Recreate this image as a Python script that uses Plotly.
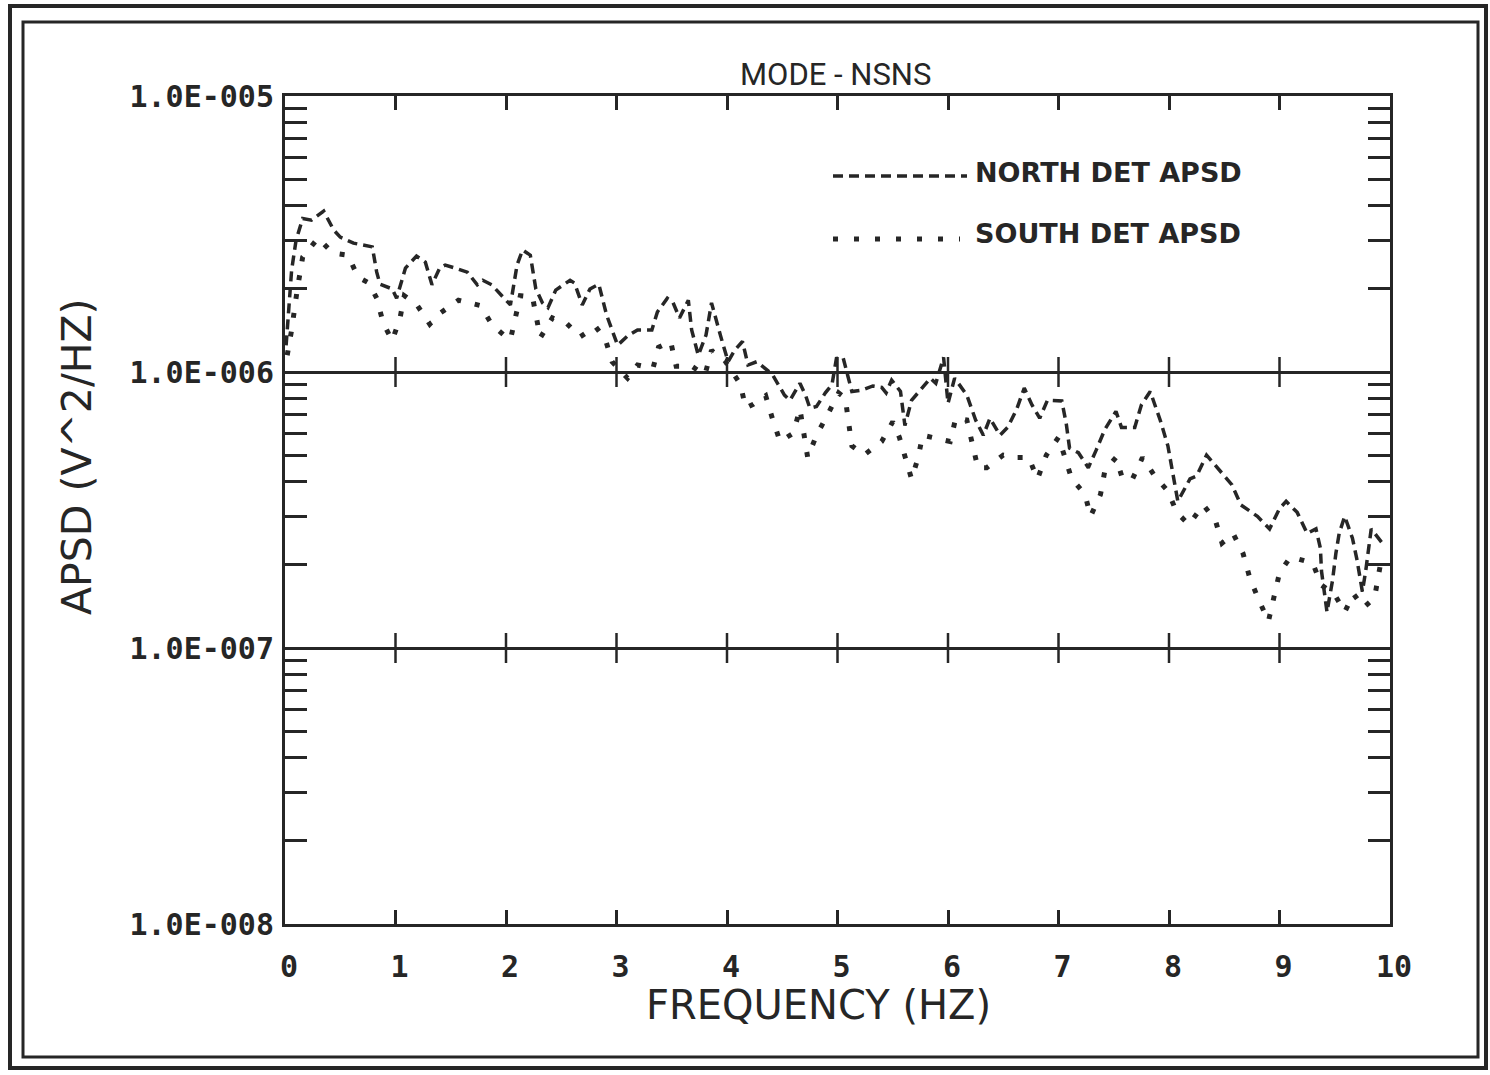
import plotly.graph_objects as go

# ---------------- data ----------------
north_freq = [0.01, 0.06, 0.10, 0.16, 0.24, 0.35, 0.44, 0.50, 0.62, 0.70, 0.79, 0.83, 0.86, 0.97,
              1.01, 1.09, 1.19, 1.27, 1.33, 1.40, 1.45, 1.54, 1.65, 1.74, 1.79, 1.87, 1.96,
              2.04, 2.10, 2.15, 2.22, 2.27, 2.33, 2.38, 2.45, 2.58, 2.62, 2.69, 2.76, 2.84, 2.91,
              3.01, 3.10, 3.19, 3.32, 3.37, 3.46, 3.51, 3.57, 3.65, 3.68, 3.74, 3.81, 3.86, 3.94,
              4.01, 4.07, 4.14, 4.19, 4.27, 4.41, 4.52, 4.57, 4.66, 4.71, 4.75, 4.81, 4.89, 4.95, 4.99,
              5.05, 5.10, 5.13, 5.22, 5.32, 5.40, 5.44, 5.49, 5.57, 5.61, 5.67, 5.75, 5.84, 5.89, 5.96,
              6.00, 6.06, 6.17, 6.25, 6.32, 6.38, 6.47, 6.54, 6.62, 6.69, 6.76, 6.83, 6.90,
              7.03, 7.07, 7.10, 7.18, 7.27, 7.34, 7.42, 7.52, 7.57, 7.69, 7.75, 7.83, 7.92, 7.99,
              8.03, 8.08, 8.19, 8.25, 8.34, 8.44, 8.57, 8.65, 8.80, 8.91,
              9.00, 9.06, 9.16, 9.25, 9.33, 9.37, 9.38, 9.43, 9.48, 9.51, 9.54, 9.59, 9.66, 9.70,
              9.75, 9.78, 9.81, 9.83, 9.93]
north_apsd = [1.25e-6, 2.34e-6, 3.0e-6, 3.6e-6, 3.55e-6, 3.83e-6, 3.27e-6, 3.08e-6, 2.93e-6, 2.88e-6,
              2.84e-6, 2.30e-6, 2.08e-6, 2.0e-6,
              1.85e-6, 2.38e-6, 2.63e-6, 2.5e-6, 2.07e-6, 2.38e-6, 2.44e-6, 2.38e-6, 2.30e-6, 2.07e-6,
              2.15e-6, 2.07e-6, 1.89e-6,
              1.75e-6, 2.44e-6, 2.77e-6, 2.65e-6, 2.0e-6, 1.78e-6, 1.71e-6, 1.98e-6, 2.15e-6, 2.10e-6,
              1.75e-6, 2.0e-6, 2.08e-6, 1.61e-6,
              1.25e-6, 1.35e-6, 1.42e-6, 1.42e-6, 1.65e-6, 1.85e-6, 1.79e-6, 1.57e-6, 1.82e-6, 1.42e-6,
              1.15e-6, 1.36e-6, 1.78e-6, 1.36e-6,
              1.09e-6, 1.20e-6, 1.29e-6, 1.06e-6, 1.09e-6, 9.8e-7, 8.25e-7, 7.9e-7, 9.1e-7, 8.25e-7,
              7.4e-7, 7.5e-7, 8.4e-7, 9.0e-7, 1.12e-6,
              1.13e-6, 9.35e-7, 8.5e-7, 8.6e-7, 8.9e-7, 8.8e-7, 8.4e-7, 9.35e-7, 8.5e-7, 6.4e-7,
              7.9e-7, 8.6e-7, 9.5e-7, 9.1e-7, 1.13e-6,
              7.7e-7, 9.5e-7, 8.25e-7, 6.7e-7, 5.9e-7, 6.8e-7, 5.9e-7, 6.3e-7, 7.3e-7, 8.75e-7,
              7.6e-7, 6.8e-7, 7.9e-7,
              7.85e-7, 6.5e-7, 5.3e-7, 5.1e-7, 4.5e-7, 5.2e-7, 6.2e-7, 7.2e-7, 6.3e-7, 6.3e-7,
              7.6e-7, 8.5e-7, 6.7e-7, 5.4e-7,
              4.4e-7, 3.4e-7, 4.1e-7, 4.2e-7, 5.0e-7, 4.5e-7, 3.9e-7, 3.3e-7, 3.0e-7, 2.7e-7,
              3.2e-7, 3.4e-7, 3.1e-7, 2.6e-7, 2.7e-7, 2.3e-7, 1.9e-7, 1.35e-7, 1.76e-7, 2.2e-7,
              2.6e-7, 3.0e-7, 2.5e-7, 2.1e-7,
              1.6e-7, 1.9e-7, 2.3e-7, 2.7e-7, 2.4e-7]

south_freq = [0.02, 0.06, 0.11, 0.16, 0.30, 0.43, 0.57, 0.66, 0.76, 0.83, 0.89, 0.97,
              1.04, 1.08, 1.19, 1.31, 1.41, 1.57, 1.77, 1.87, 1.99,
              2.04, 2.13, 2.24, 2.31, 2.42, 2.55, 2.67, 2.81, 2.90, 2.96,
              3.10, 3.19, 3.33, 3.38, 3.49, 3.54, 3.68, 3.80, 3.86, 3.91, 3.98,
              4.12, 4.17, 4.24, 4.35, 4.41, 4.48, 4.60, 4.66, 4.73, 4.81, 4.91,
              5.01, 5.07, 5.13, 5.24, 5.40, 5.50, 5.56, 5.67, 5.73, 5.77, 5.90,
              6.02, 6.07, 6.17, 6.22, 6.27, 6.35, 6.50, 6.63, 6.73, 6.81, 6.89,
              7.00, 7.12, 7.24, 7.29, 7.38, 7.42, 7.52, 7.58, 7.67, 7.76, 7.87, 7.99,
              8.07, 8.18, 8.31, 8.42, 8.48, 8.58, 8.67, 8.73, 8.81, 8.90, 8.95,
              9.00, 9.10, 9.30, 9.38, 9.50, 9.59, 9.67, 9.76, 9.86, 9.92]
south_apsd = [1.15e-6, 1.42e-6, 1.98e-6, 2.61e-6, 3.06e-6, 2.70e-6, 2.65e-6, 2.21e-6, 2.10e-6,
              1.85e-6, 1.5e-6, 1.3e-6,
              1.56e-6, 1.89e-6, 1.76e-6, 1.49e-6, 1.64e-6, 1.82e-6, 1.74e-6, 1.49e-6, 1.35e-6,
              1.31e-6, 1.89e-6, 1.87e-6, 1.33e-6, 1.57e-6, 1.5e-6, 1.34e-6, 1.46e-6, 1.31e-6, 1.09e-6,
              9.5e-7, 1.06e-6, 1.03e-6, 1.23e-6, 1.29e-6, 1.05e-6, 1.05e-6, 9.75e-7, 1.2e-6, 1.14e-6,
              1.1e-6,
              9.05e-7, 7.4e-7, 7.65e-7, 8.2e-7, 6.8e-7, 5.6e-7, 6.0e-7, 7.35e-7, 4.9e-7, 5.9e-7, 7.0e-7,
              8.4e-7, 8.05e-7, 5.4e-7, 5.0e-7, 5.6e-7, 6.6e-7, 5.8e-7, 4.1e-7, 4.9e-7, 5.9e-7, 5.75e-7,
              5.6e-7, 6.8e-7, 6.7e-7, 5.5e-7, 4.5e-7, 4.5e-7, 5.0e-7, 4.9e-7, 4.9e-7, 4.1e-7, 5.0e-7,
              5.8e-7, 4.1e-7, 3.6e-7, 3.0e-7, 3.6e-7, 4.4e-7, 4.9e-7, 4.1e-7, 4.1e-7, 4.9e-7, 4.2e-7,
              3.7e-7,
              3.1e-7, 2.8e-7, 3.3e-7, 2.9e-7, 2.4e-7, 2.6e-7, 2.2e-7, 1.8e-7, 1.5e-7, 1.25e-7, 1.53e-7,
              1.87e-7, 2.14e-7, 2.03e-7, 1.69e-7, 1.56e-7, 1.35e-7, 1.57e-7, 1.4e-7, 1.52e-7, 2.08e-7]

x_ticks = list(range(0, 11))
y_tick_vals = [1e-8, 1e-7, 1e-6, 1e-5]
y_tick_text = ["1.0E-008", "1.0E-007", "1.0E-006", "1.0E-005"]
series_names = ["NORTH DET APSD", "SOUTH DET APSD"]
title_text = "MODE - NSNS"
x_title = "FREQUENCY (HZ)"
y_title = "APSD (V^2/HZ)"

# ---------------- layout geometry / style ----------------
W, H = 1490, 1075
L, R, T, B = 285, 100, 96, 151
PW, PH = W - L - R, H - T - B
INK = "#262626"
NORTH_DASH = "10px,6px"
SOUTH_DASH = "5px,14px"


def px(x):
    return (x - L) / PW


def py(y):
    return (T + PH - y) / PH


fig = go.Figure()
fig.add_trace(go.Scatter(x=north_freq, y=north_apsd, mode="lines", name=series_names[0],
                         line=dict(color=INK, width=3.5, dash=NORTH_DASH), showlegend=False))
fig.add_trace(go.Scatter(x=south_freq, y=south_apsd, mode="lines", name=series_names[1],
                         line=dict(color=INK, width=5, dash=SOUTH_DASH), showlegend=False))

minor_vals = [k * 10.0 ** e for e in (-8, -7, -6) for k in range(2, 10)]

fig.update_layout(
    width=W, height=H,
    margin=dict(l=L, r=R, t=T, b=B),
    paper_bgcolor="white", plot_bgcolor="white",
    showlegend=False,
    xaxis=dict(range=[0, 10], tickmode="array", tickvals=x_ticks,
               ticktext=[str(v) for v in x_ticks],
               ticks="inside", ticklen=14, tickwidth=2.5, tickcolor=INK,
               showline=True, linewidth=3, linecolor=INK, mirror="ticks",
               showgrid=False, zeroline=False, automargin=False,
               ticklabelstandoff=14, ticklabelshift=4,
               tickfont=dict(family="DejaVu Sans Mono", size=30, color=INK, weight="bold")),
    yaxis=dict(type="log", range=[-8, -5], tickmode="array", tickvals=y_tick_vals,
               ticktext=y_tick_text,
               ticks="inside", ticklen=22, tickwidth=2.5, tickcolor=INK,
               showline=True, linewidth=3, linecolor=INK, mirror="ticks",
               showgrid=True, gridcolor=INK, gridwidth=3, zeroline=False, automargin=False,
               ticklabelstandoff=2,
               minor=dict(tickmode="array", tickvals=minor_vals, ticks="inside", ticklen=22,
                          tickwidth=2.5, tickcolor=INK, showgrid=False),
               tickfont=dict(family="DejaVu Sans Mono", size=30, color=INK, weight="bold")),
)

shapes = []
# crossing ticks on the interior decade lines
for yp in (1 / 3, 2 / 3):
    for xv in x_ticks[1:-1]:
        shapes.append(dict(type="line", xref="x", yref="paper", x0=xv, x1=xv,
                           y0=yp - 15 / PH, y1=yp + 15 / PH,
                           line=dict(color=INK, width=2.5)))
# page frames
shapes.append(dict(type="rect", xref="paper", yref="paper", x0=px(10), x1=px(1486),
                   y0=py(1068), y1=py(6), line=dict(color=INK, width=4)))
shapes.append(dict(type="rect", xref="paper", yref="paper", x0=px(23), x1=px(1478),
                   y0=py(1057), y1=py(22), line=dict(color=INK, width=3)))
# legend samples
shapes.append(dict(type="line", xref="paper", yref="paper", x0=px(833), x1=px(967),
                   y0=py(176), y1=py(176), line=dict(color=INK, width=3.5, dash=NORTH_DASH)))
shapes.append(dict(type="line", xref="paper", yref="paper", x0=px(833), x1=px(960),
                   y0=py(239), y1=py(239), line=dict(color=INK, width=5, dash="5px,16px")))
fig.update_layout(shapes=shapes)

ann = []
ann.append(dict(text=title_text, xref="paper", yref="paper", x=px(835), y=py(74),
                xanchor="center", yanchor="middle", showarrow=False,
                font=dict(family="Roboto", size=31, color=INK)))
ann.append(dict(text=x_title, xref="paper", yref="paper", x=px(818), y=py(1005),
                xanchor="center", yanchor="middle", showarrow=False,
                font=dict(family="DejaVu Sans", size=40, color=INK)))
ann.append(dict(text=y_title, xref="paper", yref="paper", x=px(77), y=py(457),
                xanchor="center", yanchor="middle", showarrow=False, textangle=-90,
                font=dict(family="DejaVu Sans", size=41, color=INK)))
ann.append(dict(text=series_names[0], xref="paper", yref="paper", x=px(973), y=py(173),
                xanchor="left", yanchor="middle", showarrow=False,
                font=dict(family="DejaVu Sans", size=27, color=INK, weight="bold")))
ann.append(dict(text=series_names[1], xref="paper", yref="paper", x=px(973), y=py(234),
                xanchor="left", yanchor="middle", showarrow=False,
                font=dict(family="DejaVu Sans", size=27, color=INK, weight="bold")))
fig.update_layout(annotations=ann)

fig.write_html("out.html")
